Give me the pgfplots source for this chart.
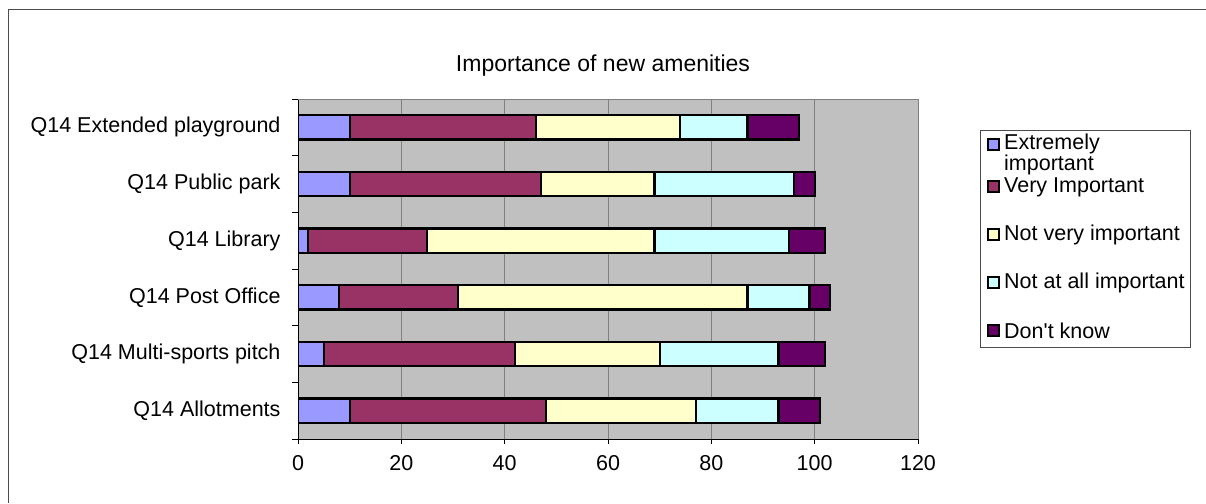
\documentclass[border=0pt]{standalone}
\usepackage{pgfplots}
\pgfplotsset{compat=1.18}
\usepackage{fontspec}
\setmainfont{Liberation Sans}
\definecolor{cA}{HTML}{9999FF}
\definecolor{cB}{HTML}{993366}
\definecolor{cC}{HTML}{FFFFCC}
\definecolor{cD}{HTML}{CCFFFF}
\definecolor{cE}{HTML}{660066}
\definecolor{silverbg}{HTML}{C0C0C0}
\definecolor{gridgray}{HTML}{808080}
\newcommand{\lf}{\fontsize{21.5}{25}\selectfont}
\begin{document}
\begin{tikzpicture}[x=1pt,y=1pt]
\useasboundingbox (0,0) rectangle (1206,-503);
\fill[white] (0,0) rectangle (1206,-503);
\draw[black!70, line width=1pt] (8,-503) -- (8,-10) -- (1206,-10);
\node[font=\fontsize{23}{27}\selectfont] at (603,-66) {Importance of new amenities};
\begin{axis}[
  at={(298pt,-439pt)}, anchor=south west,
  width=620pt, height=340pt, scale only axis,
  xbar stacked, bar width=0.43,
  xmin=0, xmax=120, ymin=-0.5, ymax=5.5,
  xtick={0,20,...,120},
  xmajorgrids, grid style={gridgray, line width=0.9pt},
  axis background/.style={fill=silverbg},
  axis line style={draw=none},
  xtick pos=bottom, ytick pos=left,
  tick align=outside,
  x tick style={black, line width=0.8pt}, 
  major tick length=5pt,
  ytick={0,...,5},
  yticklabels={Q14 Allotments,Q14 Multi-sports pitch,Q14 Post Office,Q14 Library,Q14 Public park,Q14 Extended playground},
  y tick style={draw=none},
  extra y ticks={-0.5,0.5,1.5,2.5,3.5,4.5,5.5},
  extra y tick labels={},
  extra y tick style={y tick style={draw=black, line width=0.8pt}, major tick length=6pt, ymajorgrids=false},
  ticklabel style={font=\lf},
  /pgf/number format/assume math mode=true,
  xticklabel style={yshift=-8pt},
  yticklabel style={xshift=-9pt},
  every axis plot/.append style={draw=black, line width=2.1pt},
]
\addplot[fill=cA] coordinates {(10,0) (5,1) (8,2) (2,3) (10,4) (10,5)};
\addplot[fill=cB] coordinates {(38,0) (37,1) (23,2) (23,3) (37,4) (36,5)};
\addplot[fill=cC] coordinates {(29,0) (28,1) (56,2) (44,3) (22,4) (28,5)};
\addplot[fill=cD] coordinates {(16,0) (23,1) (12,2) (26,3) (27,4) (13,5)};
\addplot[fill=cE] coordinates {(8,0) (9,1) (4,2) (7,3) (4,4) (10,5)};
\draw[gridgray, line width=1pt] (rel axis cs:0,1) -- (rel axis cs:1,1) -- (rel axis cs:1,0);
\draw[black, line width=1pt] (rel axis cs:0,1) -- (rel axis cs:0,0) -- (rel axis cs:1,0);
\end{axis}
% legend
\draw[black!70, line width=0.8pt] (980,-130) rectangle (1190,-347);
\begin{scope}[font=\lf]
\foreach \col/\yy in {cA/145,cB/187,cC/235,cD/283,cE/331}{
  \draw[black, line width=1.6pt, fill=\col] (988,-\yy+6) rectangle (999,-\yy-5);
}
\node[anchor=west, align=left, inner sep=0pt] at (1004,-154) {Extremely\\[-4pt]important};
\node[anchor=west, inner sep=0pt] at (1004,-187) {Very Important};
\node[anchor=west, inner sep=0pt] at (1004,-235) {Not very important};
\node[anchor=west, inner sep=0pt] at (1004,-283) {Not at all important};
\node[anchor=west, inner sep=0pt] at (1004,-331) {Don\textquotesingle t know};
\end{scope}
\end{tikzpicture}
\end{document}
